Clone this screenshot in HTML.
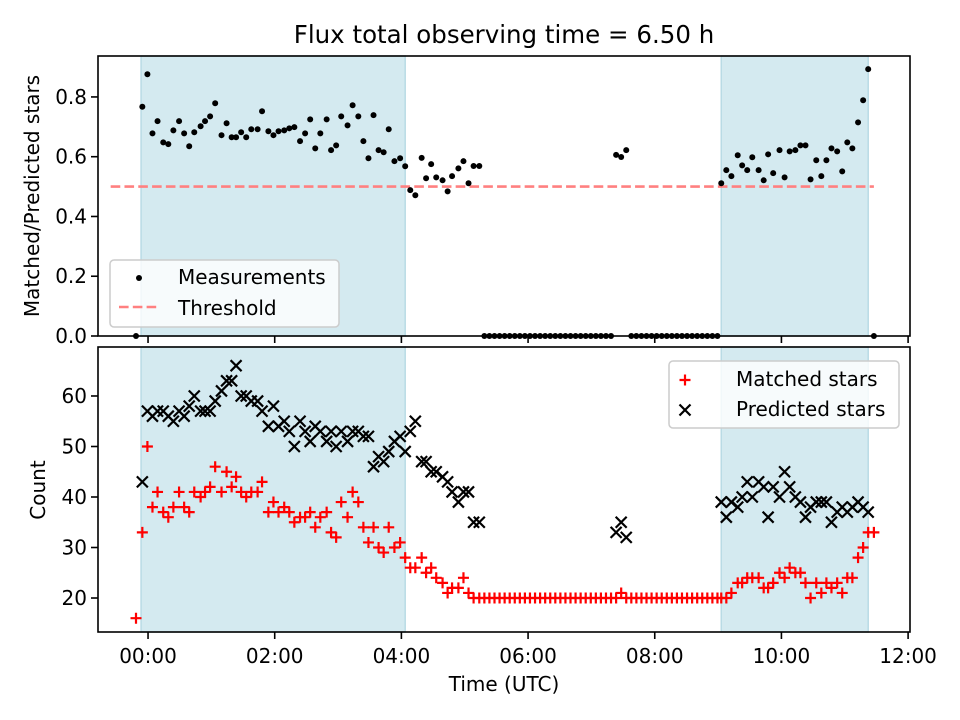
<!DOCTYPE html>
<html><head><meta charset="utf-8"><style>
html,body{margin:0;padding:0;background:#fff;}
svg{display:block;font-family:"DejaVu Sans","Liberation Sans",sans-serif;}
</style></head><body>
<svg id="fig" width="960" height="720" viewBox="0 0 960 720"></svg>
<script>
// ---- data (hours UTC) ----
const timesA=[-0.19,-0.09,-0.01,0.07,0.15,0.24,0.32,0.40,0.49,0.57,0.65,0.73,0.83,0.90,0.98,1.06,1.16,1.24,1.32,1.39,1.47,1.55,1.63,1.73,1.80,1.90,1.98,2.06,2.15,2.23,2.31,2.40,2.48,2.56,2.64,2.72,2.82,2.89,2.97,3.05,3.15,3.23,3.32,3.40,3.48,3.56,3.64,3.72,3.80,3.89,3.98,4.06,4.14,4.22,4.32,4.39,4.47,4.55,4.65,4.73,4.80,4.90,4.98,5.06,5.14,5.23];
const ratioA=[0,0.767,0.876,0.678,0.719,0.648,0.642,0.688,0.719,0.678,0.635,0.682,0.702,0.719,0.735,0.779,0.672,0.712,0.665,0.665,0.682,0.665,0.692,0.692,0.752,0.685,0.672,0.685,0.688,0.695,0.699,0.652,0.678,0.725,0.628,0.678,0.725,0.622,0.638,0.735,0.705,0.772,0.735,0.652,0.595,0.739,0.622,0.615,0.692,0.585,0.595,0.568,0.488,0.471,0.596,0.528,0.575,0.531,0.521,0.484,0.535,0.561,0.585,0.511,0.569,0.569];
const matchedA=[16,33,50,38,41,37,36,38,41,38,37,41,40,41,42,46,41,45,42,44,41,40,41,41,43,37,39,37,38,37,35,36,36,37,34,36,37,33,32,39,36,41,39,34,31,34,30,29,34,30,31,28,26,26,28,25,26,24,23,21,22,22,24,21,20,20];
const predictedA=[null,43,57,56,57,57,56,55,57,56,58,60,57,57,57,59,61,63,63,66,60,60,59,59,57,54,58,54,55,53,50,55,53,51,54,53,51,53,50,53,51,53,53,52,52,46,48,47,49,51,52,49,53,55,47,47,45,45,44,43,41,39,41,41,35,35];

const timesB=[5.31,5.39,5.47,5.55,5.63,5.71,5.79,5.87,5.95,6.03,6.11,6.19,6.27,6.35,6.43,6.51,6.59,6.67,6.75,6.83,6.91,6.99,7.07,7.15,7.23,7.31,7.39,7.47,7.55,7.63,7.71,7.79,7.87,7.95,8.03,8.11,8.19,8.27,8.35,8.43,8.51,8.59,8.67,8.75,8.83,8.91,8.99];
const ratioB=[0,0,0,0,0,0,0,0,0,0,0,0,0,0,0,0,0,0,0,0,0,0,0,0,0,0,0.606,0.599,0.622,0,0,0,0,0,0,0,0,0,0,0,0,0,0,0,0,0,0];
const matchedB=[20,20,20,20,20,20,20,20,20,20,20,20,20,20,20,20,20,20,20,20,20,20,20,20,20,20,20,21,20,20,20,20,20,20,20,20,20,20,20,20,20,20,20,20,20,20,20];
const predictedB=[null,null,null,null,null,null,null,null,null,null,null,null,null,null,null,null,null,null,null,null,null,null,null,null,null,null,33,35,32,null,null,null,null,null,null,null,null,null,null,null,null,null,null,null,null,null,null];

const timesC=[9.05,9.13,9.21,9.31,9.38,9.46,9.54,9.64,9.72,9.79,9.87,9.97,10.05,10.13,10.22,10.30,10.38,10.46,10.55,10.63,10.71,10.79,10.88,10.96,11.04,11.12,11.21,11.29,11.37,11.46];
const ratioC=[0.511,0.555,0.535,0.605,0.571,0.555,0.598,0.555,0.521,0.608,0.545,0.622,0.531,0.618,0.622,0.638,0.638,0.524,0.588,0.535,0.588,0.628,0.618,0.551,0.648,0.628,0.715,0.789,0.893,0];
const matchedC=[20,20,21,23,23,24,24,24,22,22,23,25,24,26,25,25,23,20,23,21,23,22,23,21,24,24,28,30,33,33];
const predictedC=[39,36,39,38,40,43,40,43,42,36,42,40,45,42,40,39,36,38,39,39,39,35,37,38,37,38,39,38,37,null];

const times=timesA.concat(timesB,timesC);
const ratio=ratioA.concat(ratioB,ratioC);
const matched=matchedA.concat(matchedB,matchedC);
const predicted=predictedA.concat(predictedB,predictedC);

const spans=[[-0.11,4.06],[9.05,11.37]];
const threshold=0.5;
const thresholdRange=[-0.59,11.46];
const xTicks=[0,2,4,6,8,10,12];
const xTickLabels=["00:00","02:00","04:00","06:00","08:00","10:00","12:00"];
const topYTicks=[0,0.2,0.4,0.6,0.8];
const topYTickLabels=["0.0","0.2","0.4","0.6","0.8"];
const botYTicks=[20,30,40,50,60];
const botYTickLabels=["20","30","40","50","60"];

// ---- axes ----
const L=98,R=910, X0=-0.79, X1=12.03;
const T1=56,B1=336, Y1min=0, Y1max=0.937;
const T2=347,B2=632, Y2min=13.27, Y2max=69.7;
const xs=h=>L+(h-X0)/(X1-X0)*(R-L);
const y1=v=>B1-(v-Y1min)/(Y1max-Y1min)*(B1-T1);
const y2=v=>B2-(v-Y2min)/(Y2max-Y2min)*(B2-T2);

const NS="http://www.w3.org/2000/svg";
const svg=document.getElementById('fig');
function mk(tag,attrs,parent){const e=document.createElementNS(NS,tag);for(const k in attrs)e.setAttribute(k,attrs[k]);(parent||svg).appendChild(e);return e;}

// title
let t=mk('text',{x:504,y:43,'font-size':'24.5','text-anchor':'middle',fill:'#000'});
t.textContent='Flux total observing time = 6.50 h';



function panel(top,bot,yfn,yTicks,yLabels,name){
  const g=mk('g',{});
  
  
  spans.forEach((s,i)=>{
    const r=mk('rect',{x:xs(s[0]),y:top,width:xs(s[1])-xs(s[0]),height:bot-top,fill:'#d4eaf0',stroke:'#b9dbe5','stroke-width':1.5},g);
    
    
  });
  yTicks.forEach((v,i)=>{
    const yy=yfn(v);
    mk('line',{x1:L-7,x2:L,y1:yy,y2:yy,stroke:'#000','stroke-width':1.6},g);
    const tl=mk('text',{x:L-11,y:yy+7,'font-size':'20','text-anchor':'end'},g);
    tl.textContent=yLabels[i];
    
    
  });
  xTicks.forEach(v=>{mk('line',{x1:xs(v),x2:xs(v),y1:bot,y2:bot+7,stroke:'#000','stroke-width':1.6},g);});
  return g;
}

// top panel
const gTop=panel(T1,B1,y1,topYTicks,topYTickLabels,'ratio-panel');
let th=mk('line',{x1:xs(thresholdRange[0]),x2:xs(thresholdRange[1]),y1:y1(threshold),y2:y1(threshold),stroke:'#ff8080','stroke-width':2.6,'stroke-dasharray':'9.6,4.2'},gTop);


times.forEach((h,i)=>{
  const c=mk('circle',{cx:xs(h),cy:y1(ratio[i]),r:3,fill:'#000'},gTop);
  
  
});
mk('rect',{x:L,y:T1,width:R-L,height:B1-T1,fill:'none',stroke:'#000','stroke-width':1.6},gTop);

// top legend
const lg1=mk('g',{});


mk('rect',{x:110,y:260,width:229,height:67,rx:4,fill:'#fff','fill-opacity':0.8,stroke:'#ccc','stroke-width':1.5},lg1);
mk('circle',{cx:139,cy:278,r:3,fill:'#000'},lg1);
let lt=mk('text',{x:178,y:284,'font-size':'20'},lg1);lt.textContent='Measurements';


mk('line',{x1:119,x2:160,y1:307,y2:307,stroke:'#ff8080','stroke-width':2.6,'stroke-dasharray':'9.6,4.2'},lg1);
lt=mk('text',{x:178,y:315,'font-size':'20'},lg1);lt.textContent='Threshold';



let yl=mk('text',{x:0,y:0,'font-size':'20','text-anchor':'middle',transform:'translate(39,196) rotate(-90)'});
yl.textContent='Matched/Predicted stars';



// bottom panel
const gBot=panel(T2,B2,y2,botYTicks,botYTickLabels,'count-panel');
const S=5.5;
times.forEach((h,i)=>{
  if(predicted[i]!==null){
    const cx=xs(h),cy=y2(predicted[i]);
    const p=mk('path',{d:`M${cx-S},${cy-S}L${cx+S},${cy+S}M${cx-S},${cy+S}L${cx+S},${cy-S}`,stroke:'#000','stroke-width':2.2,fill:'none'},gBot);
    
    
  }
});
times.forEach((h,i)=>{
  const cx=xs(h),cy=y2(matched[i]);
  const p=mk('path',{d:`M${cx-S},${cy}L${cx+S},${cy}M${cx},${cy-S}L${cx},${cy+S}`,stroke:'#ff0000','stroke-width':2.2,fill:'none'},gBot);
  
  
});
mk('rect',{x:L,y:T2,width:R-L,height:B2-T2,fill:'none',stroke:'#000','stroke-width':1.6},gBot);
xTicks.forEach((v,i)=>{
  const tl=mk('text',{x:xs(v),y:B2+31,'font-size':'20','text-anchor':'middle'});
  tl.textContent=xTickLabels[i];
  
  
});

// bottom legend
const lg2=mk('g',{});


mk('rect',{x:669,y:361,width:230,height:67,rx:4,fill:'#fff','fill-opacity':0.8,stroke:'#ccc','stroke-width':1.5},lg2);
mk('path',{d:`M${685-S},380L${685+S},380M685,${380-S}L685,${380+S}`,stroke:'#ff0000','stroke-width':2.2},lg2);
lt=mk('text',{x:736,y:386,'font-size':'20'},lg2);lt.textContent='Matched stars';


mk('path',{d:`M${685-S},${410-S}L${685+S},${410+S}M${685-S},${410+S}L${685+S},${410-S}`,stroke:'#000','stroke-width':2.2},lg2);
lt=mk('text',{x:736,y:416,'font-size':'20'},lg2);lt.textContent='Predicted stars';



yl=mk('text',{x:0,y:0,'font-size':'20','text-anchor':'middle',transform:'translate(45,490) rotate(-90)'});
yl.textContent='Count';



let xl=mk('text',{x:504,y:691,'font-size':'20','text-anchor':'middle'});
xl.textContent='Time (UTC)';


</script>
</body></html>
